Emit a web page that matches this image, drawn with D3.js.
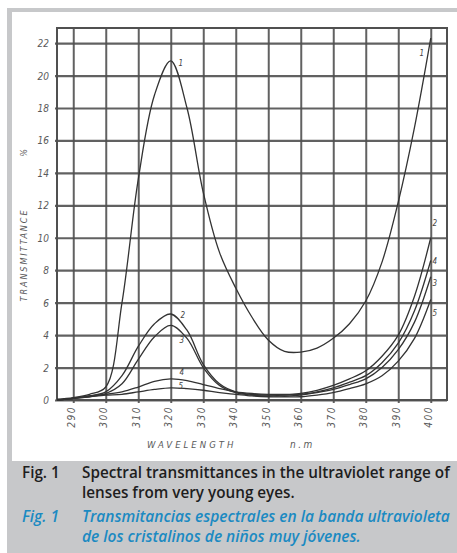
<!DOCTYPE html>
<html>
<head>
<meta charset="utf-8">
<script src="https://cdn.jsdelivr.net/npm/d3@7/dist/d3.min.js"></script>
<style>
  html, body { margin: 0; padding: 0; background: #ffffff; }
  svg { display: block; }
</style>
</head>
<body>
<svg id="chart" width="457" height="553"></svg>
<script>
// ---------------- DATA ----------------
const wavelengths = [285,290,295,300,305,310,315,320,325,330,335,340,345,350,355,360,365,370,375,380,385,390,395,400];
const curve1 = [0.05,0.15,0.35,0.8,6.0,13.6,18.8,20.9,18.0,12.8,9.1,6.9,5.1,3.7,3.0,2.95,3.2,3.8,4.7,6.1,8.5,12.2,16.8,22.3];
const curve2 = [0,0.1,0.25,0.5,1.5,3.3,4.7,5.3,4.3,2.2,1.0,0.5,0.35,0.3,0.3,0.4,0.6,0.9,1.3,1.8,2.7,4.0,6.4,10.0];
const curve3 = [0,0.1,0.2,0.4,1.0,2.5,3.9,4.6,3.8,2.0,0.9,0.45,0.3,0.25,0.25,0.3,0.45,0.65,0.95,1.3,2.0,3.1,4.8,7.6];
const curve4 = [0,0.1,0.25,0.35,0.5,0.8,1.15,1.3,1.2,0.95,0.7,0.5,0.4,0.35,0.35,0.35,0.5,0.75,1.1,1.5,2.3,3.5,5.5,8.6];
const curve5 = [0,0.1,0.2,0.3,0.35,0.5,0.65,0.75,0.7,0.6,0.45,0.35,0.25,0.2,0.2,0.2,0.3,0.45,0.7,1.0,1.5,2.4,3.8,6.2];
const curveNames = ["1","2","3","4","5"];
const xTicks = [290,300,310,320,330,340,350,360,370,380,390,400];
const yTicks = [0,2,4,6,8,10,12,14,16,18,20,22];
const xTitle = "WAVELENGTH";
const xUnit = "n.m";
const yTitle = "TRANSMITTANCE";
const yUnit = "%";
const captionEn = ["Spectral transmittances in the ultraviolet range of", "lenses from very young eyes."];
const captionEs = ["Transmitancias espectrales en la banda ultravioleta", "de los cristalinos de niños muy jóvenes."];
const figLabel = "Fig. 1";

// ---------------- STYLE ----------------
const series = [curve1, curve2, curve3, curve4, curve5];
// label offsets (px) relative to the curve point at 320 nm (left) and 400 nm (right)
const leftLabelOffset = [[10, 5], [12, 4], [11, 18], [11, -4], [10, 1]];
const rightLabelOffset = [[-9, 18], [4, -12], [4, 9], [4, 4], [4, 17]];

const svg = d3.select("#chart");
const grey = "#c7c8ca";
const gridColor = "#505050";

// background panels
svg.append("rect").attr("x", 7).attr("y", 8).attr("width", 450).attr("height", 545).attr("fill", grey);
svg.append("rect").attr("x", 12).attr("y", 12).attr("width", 445).attr("height", 449).attr("fill", "#ffffff");

const x = d3.scaleLinear().domain([285, 405]).range([57, 447]);
const y = d3.scaleLinear().domain([0, 22.93]).range([400, 28]);

const hand = "'DejaVu Sans Condensed', 'DejaVu Sans', sans-serif";

// horizontal grid + y labels
const yAxis = d3.axisLeft(y).tickValues(yTicks).tickSize(-(447 - 55)).tickPadding(6).tickFormat(d => String(d));
const gy = svg.append("g").attr("transform", "translate(55,0)").call(yAxis);
gy.select(".domain").remove();
gy.selectAll(".tick line").attr("stroke", gridColor).attr("stroke-width", 2.2).attr("opacity", 0.9);
gy.selectAll(".tick text").attr("fill", "#5a5a5a").style("font-family", hand).style("font-style", "italic")
  .style("font-size", "10px").attr("dy", "0.35em");

// vertical grid + x labels
const xAxis = d3.axisBottom(x).tickValues(xTicks).tickSize(-(403 - 28)).tickFormat("");
const gx = svg.append("g").attr("transform", "translate(0,403)").call(xAxis);
gx.select(".domain").remove();
gx.selectAll(".tick line").attr("stroke", gridColor).attr("stroke-width", 2).attr("opacity", 0.9);
gx.selectAll(".tick").append("text")
  .attr("transform", "translate(1,3) rotate(-90)")
  .attr("text-anchor", "end")
  .attr("dy", "0")
  .attr("fill", "#5a5a5a")
  .style("font-family", hand).style("font-style", "italic").style("font-size", "10px")
  .style("letter-spacing", "1.5px")
  .text(d => String(d));

// frame
svg.append("rect").attr("x", x(285)).attr("y", y(22.93)).attr("width", x(405) - x(285)).attr("height", y(0) - y(22.93))
  .attr("fill", "none").attr("stroke", gridColor).attr("stroke-width", 2);

// curves
const line = d3.line().x((d, i) => x(wavelengths[i])).y(d => y(Math.max(0, d))).curve(d3.curveCatmullRom.alpha(0.5));
svg.append("g").selectAll("path").data(series).join("path")
  .attr("d", d => line(d))
  .attr("fill", "none").attr("stroke", "#333").attr("stroke-width", 1.3);

// curve labels
const i320 = wavelengths.indexOf(320), i400 = wavelengths.indexOf(400);
const lab = svg.append("g").style("font-family", hand).style("font-style", "italic").style("font-size", "8px").attr("fill", "#444");
series.forEach((s, k) => {
  lab.append("text").attr("x", x(320) + leftLabelOffset[k][0]).attr("y", y(s[i320]) + leftLabelOffset[k][1])
    .attr("text-anchor", "middle").text(curveNames[k]);
  lab.append("text").attr("x", x(400) + rightLabelOffset[k][0]).attr("y", y(s[i400]) + rightLabelOffset[k][1])
    .attr("text-anchor", "middle").text(curveNames[k]);
});

// axis titles
svg.append("text").attr("x", 147).attr("y", 448).attr("fill", "#5a5a5a")
  .style("font-family", hand).style("font-style", "italic").style("font-size", "9.5px").style("letter-spacing", "3px")
  .text(xTitle);
svg.append("text").attr("x", 290).attr("y", 448).attr("fill", "#5a5a5a")
  .style("font-family", hand).style("font-style", "italic").style("font-size", "10px").style("letter-spacing", "2.5px")
  .text(xUnit);
svg.append("text").attr("transform", "translate(27,255) rotate(-90)").attr("text-anchor", "middle").attr("fill", "#5a5a5a")
  .style("font-family", hand).style("font-style", "italic").style("font-size", "9px").style("letter-spacing", "1.9px")
  .text(yTitle);
svg.append("text").attr("transform", "translate(27,153) rotate(-90)").attr("text-anchor", "middle").attr("fill", "#5a5a5a")
  .style("font-family", hand).style("font-style", "italic").style("font-size", "9px")
  .text(yUnit);

// caption
const capFont = "'Open Sans', 'Noto Sans', sans-serif";
function capText(txt, xx, yy, opts) {
  return svg.append("text").attr("x", xx).attr("y", yy)
    .attr("fill", opts.color).style("font-family", capFont).style("font-weight", "600")
    .style("font-style", opts.italic ? "italic" : "normal").style("font-size", opts.size + "px")
    .text(txt);
}
const black = { color: "#1e1e1e", italic: false, size: 13 };
const blue = { color: "#1b8ac2", italic: true, size: 13 };
function fit(t) { return t.node().getComputedTextLength(); }
let t1 = capText(captionEn[0], 82, 478, black);
const s1 = 13 * 368 / fit(t1);
t1.style("font-size", s1 + "px");
let t3 = capText(captionEs[0], 82, 522, blue);
const s3 = 13 * 368 / fit(t3);
t3.style("font-size", s3 + "px");
capText(figLabel, 22, 478, black).style("font-size", s1 + "px");
capText(captionEn[1], 82, 498, black).style("font-size", s1 + "px");
capText(figLabel, 22, 522, blue).style("font-size", s3 + "px");
capText(captionEs[1], 82, 542, blue).style("font-size", s3 + "px");
</script>
</body>
</html>
